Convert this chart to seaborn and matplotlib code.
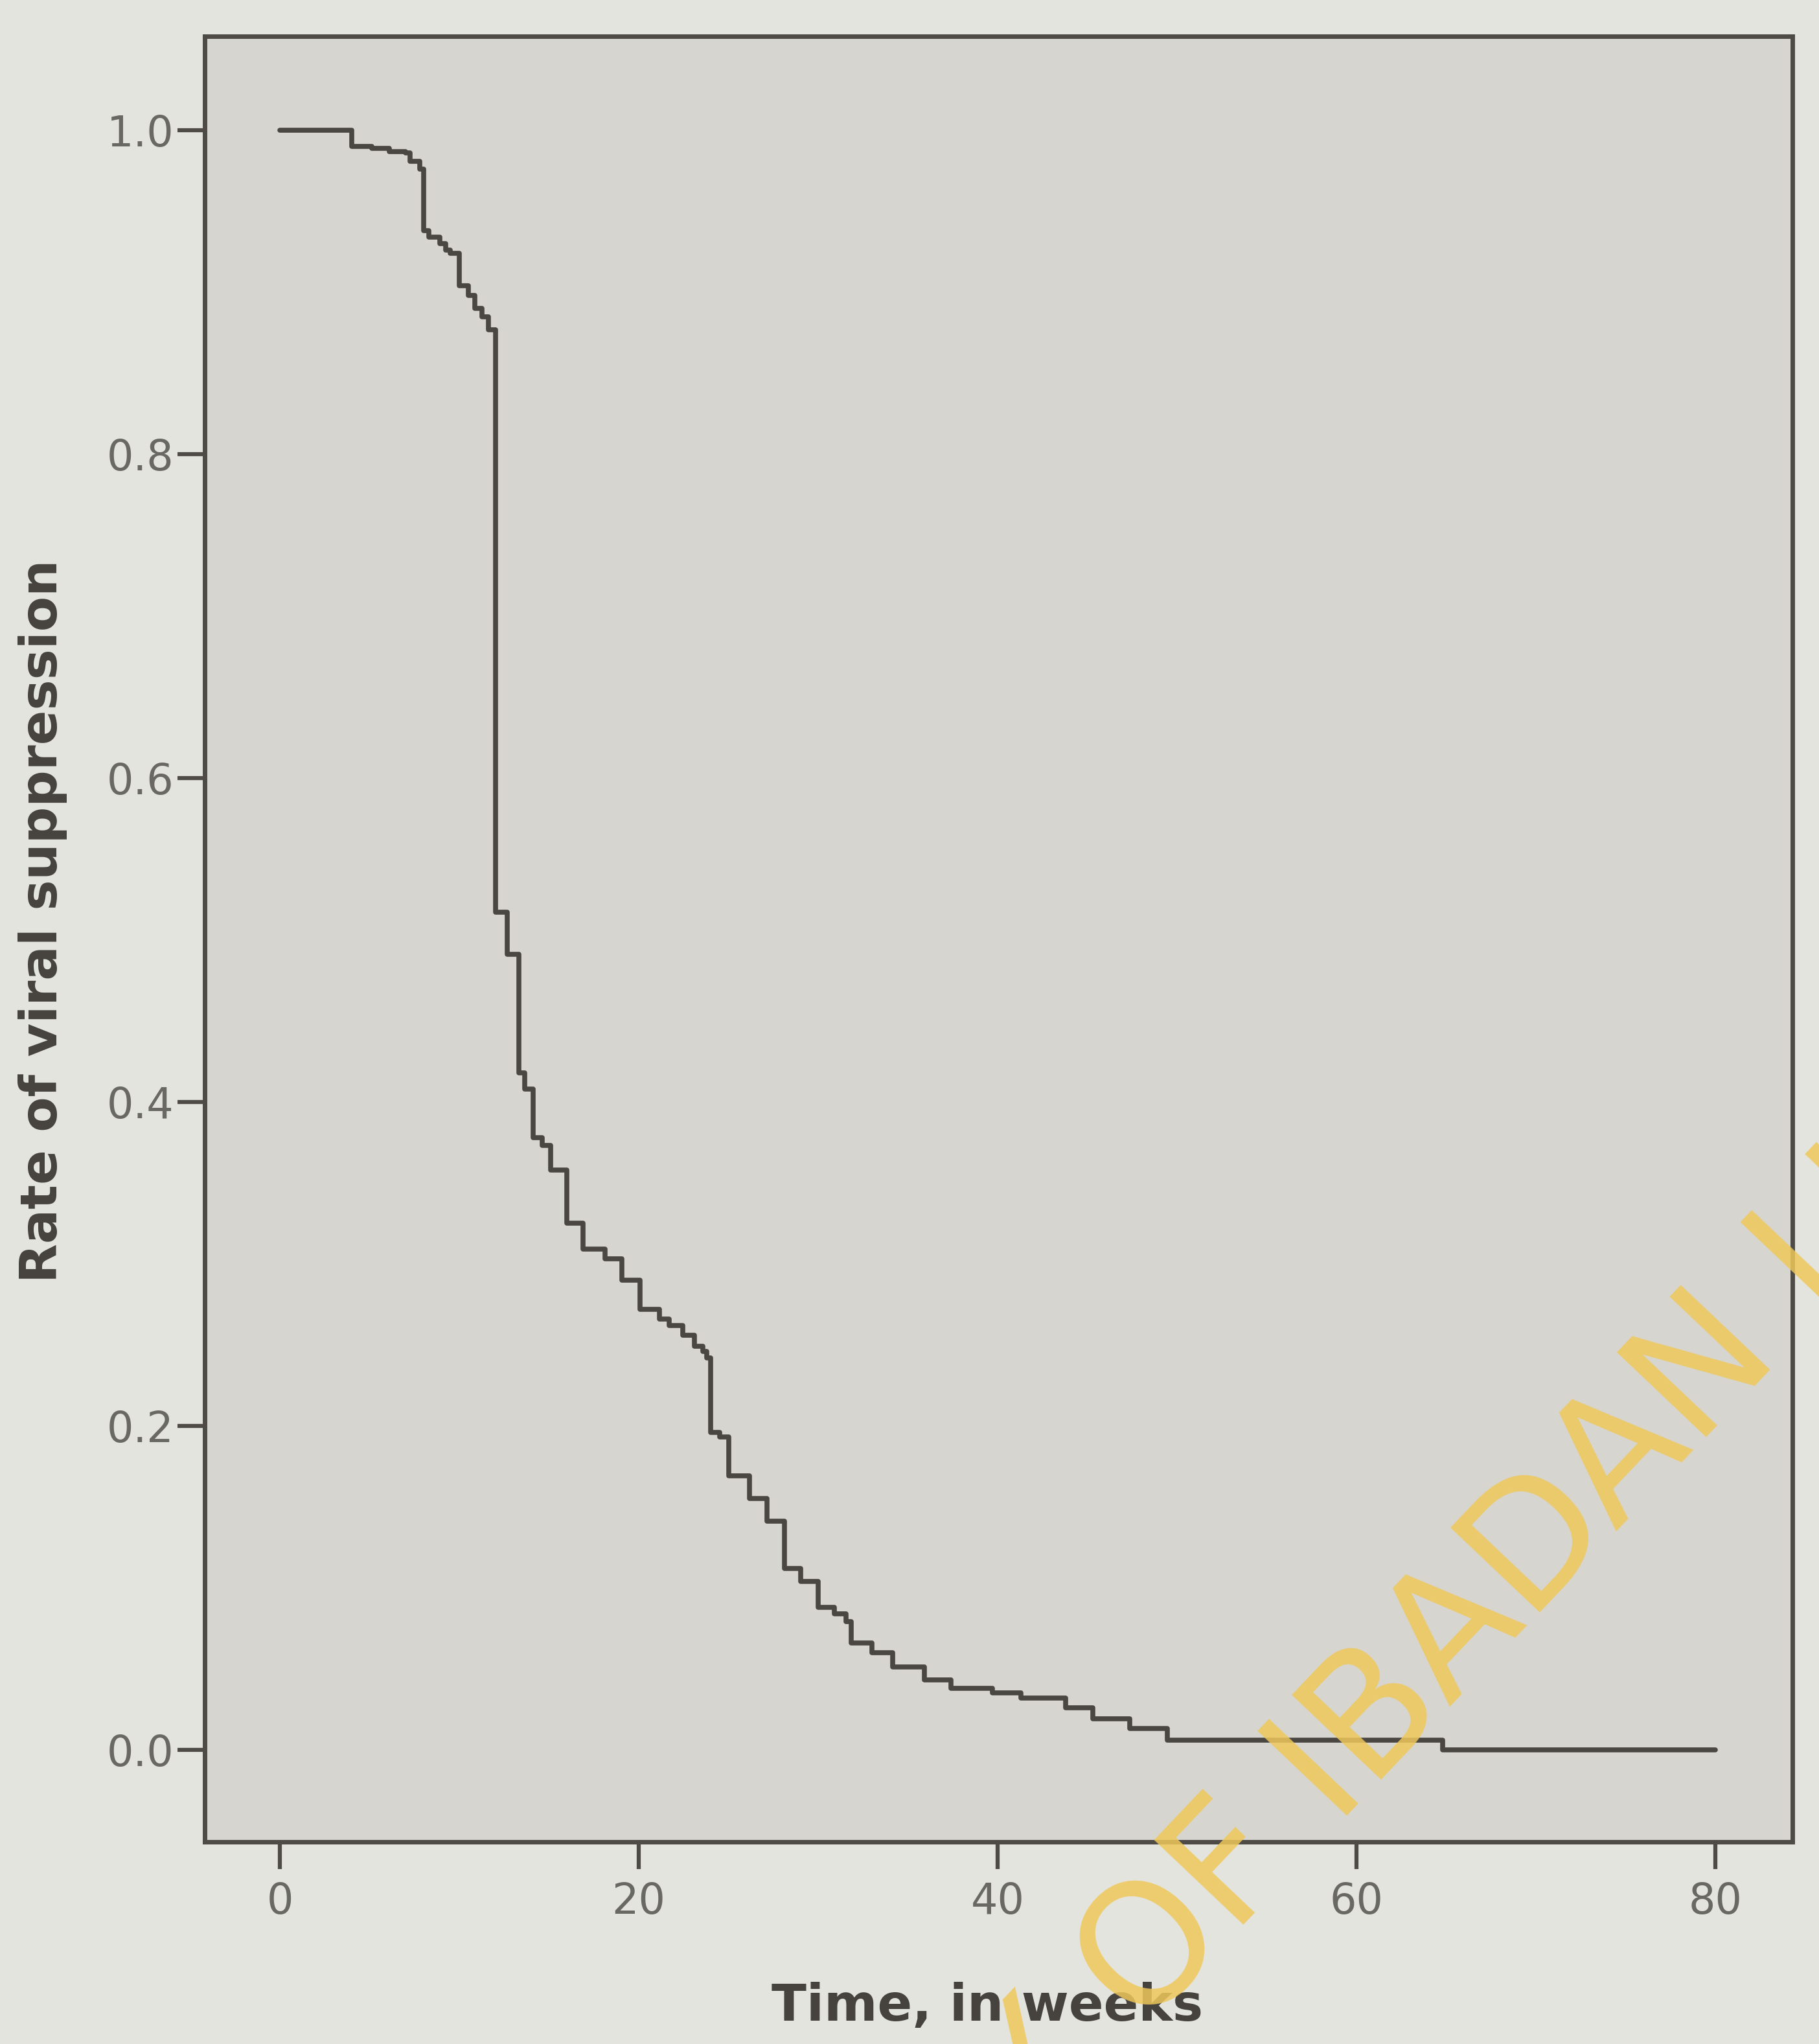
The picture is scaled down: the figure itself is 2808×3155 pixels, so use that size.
import matplotlib
matplotlib.use("Agg")
import matplotlib.pyplot as plt
import pandas as pd
import seaborn as sns

# Kaplan-Meier style step curve
weeks = [0.0, 4.0, 5.1, 6.1, 7.0, 7.25, 7.8, 8.0, 8.3, 8.9, 9.25, 9.5, 10.0, 10.5,
         10.85, 11.25, 11.6, 12.0, 12.65, 13.3, 13.65, 14.1, 14.6, 15.1, 16.0, 16.9,
         18.1, 19.05, 20.05, 21.15, 21.7, 22.45, 23.1, 23.55, 23.8, 24.0, 24.5, 25.0,
         26.15, 27.15, 28.1, 29.0, 30.0, 30.9, 31.55, 31.85, 33.0, 34.15, 35.9, 37.4,
         39.7, 41.3, 43.8, 45.3, 47.35, 49.45, 64.8, 80.0]
survival = [1.000, 0.990, 0.989, 0.987, 0.986, 0.981, 0.976, 0.938, 0.934, 0.930, 0.926,
            0.924, 0.904, 0.898, 0.890, 0.885, 0.877, 0.517, 0.491, 0.418, 0.408, 0.378,
            0.373, 0.358, 0.325, 0.309, 0.303, 0.290, 0.272, 0.266, 0.262, 0.256, 0.249,
            0.246, 0.242, 0.196, 0.193, 0.169, 0.155, 0.141, 0.112, 0.104, 0.088, 0.084,
            0.079, 0.066, 0.060, 0.051, 0.043, 0.038, 0.035, 0.032, 0.026, 0.019, 0.013,
            0.006, 0.000, 0.000]

x_ticks = [0, 20, 40, 60, 80]
x_tick_labels = ["0", "20", "40", "60", "80"]
y_ticks = [0.0, 0.2, 0.4, 0.6, 0.8, 1.0]
y_tick_labels = ["0.0", "0.2", "0.4", "0.6", "0.8", "1.0"]

x_title = "Time, in weeks"
y_title = "Rate of viral suppression"
watermark = "UNIVERSITY OF IBADAN LIBRARY"

sns.set_theme(style="white")
plt.rcParams["font.family"] = ["DejaVu Sans"]

fig = plt.figure(figsize=(28.08, 31.55), dpi=100, facecolor="#e4e4de")
ax = fig.add_axes([0.1125, 0.0989, 0.873, 0.8833])
ax.set_facecolor("#d7d5cf")

df = pd.DataFrame({"weeks": weeks, "survival": survival})
sns.lineplot(data=df, x="weeks", y="survival", drawstyle="steps-post",
             estimator=None, color="#4a4742", linewidth=5.5, ax=ax)

ax.set_xlim(-4.2, 84.3)
ax.set_ylim(-0.057, 1.058)

frame_col = "#4e4b47"
for s in ax.spines.values():
    s.set_visible(True)
    s.set_color(frame_col)
    s.set_linewidth(5)

ax.set_xticks(x_ticks)
ax.set_xticklabels(x_tick_labels)
ax.set_yticks(y_ticks)
ax.set_yticklabels(y_tick_labels)
ax.tick_params(axis="both", direction="out", length=30, width=4.5, color=frame_col,
               labelcolor="#6a6862", labelsize=47, top=False, right=False)
ax.tick_params(axis="x", bottom=True, pad=14)
ax.tick_params(axis="y", left=True, pad=4)

ax.set_xlabel(x_title, fontsize=57, fontweight="bold", color="#46433f")
ax.set_ylabel(y_title, fontsize=57, fontweight="bold", color="#46433f")
ax.xaxis.set_label_coords(0.493, -0.091)
ax.xaxis.label.set_va("center")
ax.yaxis.set_label_coords(-0.102, 0.51)
ax.yaxis.label.set_va("center")

fig.text(0.229, -0.368, watermark, rotation=46.5, rotation_mode="anchor",
         ha="left", va="baseline", fontsize=187, color="#efc85a", alpha=0.85,
         family="DejaVu Sans", zorder=10)

fig.savefig("out.png", dpi=100, facecolor=fig.get_facecolor())
